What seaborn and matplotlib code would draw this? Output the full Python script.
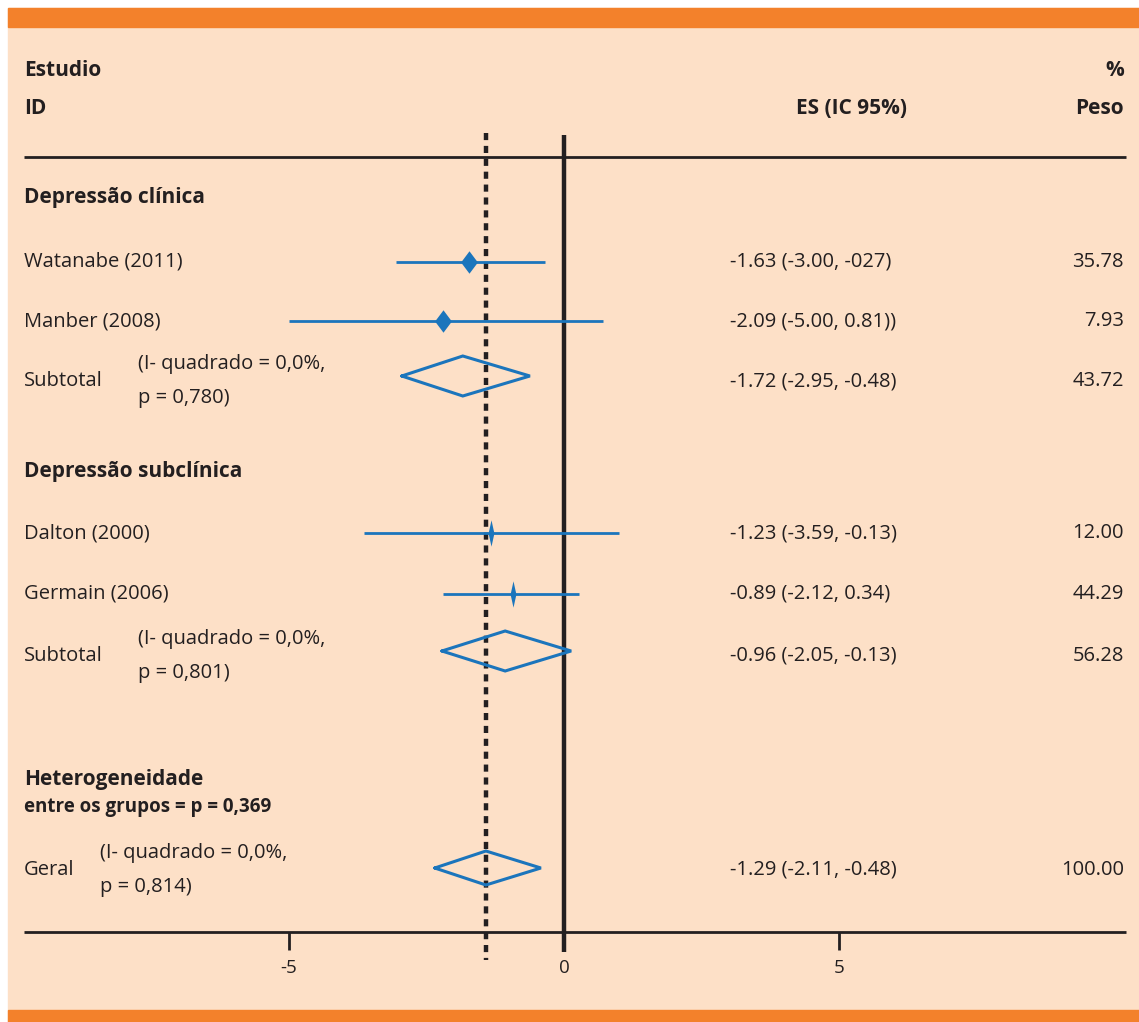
import numpy as np
import pandas as pd
import matplotlib.pyplot as plt
import seaborn as sns
from matplotlib.patches import Rectangle

# estudos individuais (posicoes)
study_names = ["Watanabe (2011)", "Manber (2008)", "Dalton (2000)", "Germain (2006)"]
study_es = [-1.73, -2.20, -1.33, -0.93]
study_lo = [-3.05, -5.00, -3.64, -2.20]
study_hi = [-0.35, 0.71, 1.00, 0.27]
study_ci_txt = ["-1.63 (-3.00, -027)", "-2.09 (-5.00, 0.81))",
                "-1.23 (-3.59, -0.13)", "-0.89 (-2.12, 0.34)"]
study_peso = ["35.78", "7.93", "12.00", "44.29"]

# subtotais e geral
pool_names = ["Subtotal", "Subtotal", "Geral"]
pool_es = [-1.84, -1.07, -1.42]
pool_lo = [-2.95, -2.22, -2.35]
pool_hi = [-0.62, 0.13, -0.42]
pool_ci_txt = ["-1.72 (-2.95, -0.48)", "-0.96 (-2.05, -0.13)", "-1.29 (-2.11, -0.48)"]
pool_peso = ["43.72", "56.28", "100.00"]
pool_het = ["(I- quadrado = 0,0%,\np = 0,780)", "(I- quadrado = 0,0%,\np = 0,801)",
            "(I- quadrado = 0,0%,\np = 0,814)"]

groups = ["Depressão clínica", "Depressão subclínica"]
xticks = [-5, 0, 5]

sns.set_theme(style="white")
plt.rcParams['font.family'] = ['Open Sans', 'DejaVu Sans']

BLUE = "#1b75bc"
DARK = "#231f20"
ORANGE = "#f3812b"
PEACH = "#fde0c7"

W, H = 1139, 1022
fig = plt.figure(figsize=(W / 100, H / 100), dpi=100)
ax = fig.add_axes([0, 0, 1, 1])
x0, scale = 564, 55.0
ax.set_xlim((0 - x0) / scale, (W - x0) / scale)
ax.set_ylim(H, 0)
ax.axis("off")


def px(x):
    return (x - x0) / scale


# fundo e faixas laranja
ax.add_patch(Rectangle((px(8), 8), px(W) - px(8), H - 8, color=PEACH, zorder=0))
ax.add_patch(Rectangle((px(8), 8), px(W) - px(8), 19, color=ORANGE, zorder=1))
ax.add_patch(Rectangle((px(8), 1010), px(W) - px(8), 12, color=ORANGE, zorder=1))

# linhas de referencia
ax.vlines(0, 135, 952, color=DARK, lw=3.2, zorder=3)
ax.vlines(pool_es[2], 133, 960, color=DARK, lw=3.2, linestyles=(0, (1.6, 1.3)), zorder=3)
ax.hlines(157, px(24), px(1126), color=DARK, lw=2, zorder=3)
ax.hlines(932, px(24), px(1126), color=DARK, lw=2, zorder=3)
ax.vlines(xticks, 932, 950, color=DARK, lw=2, zorder=3)
for t in xticks:
    ax.text(t, 968, f"{t}", ha="center", va="center", fontsize=13.5, color=DARK)

# cabecalho
bold = dict(fontsize=15, fontweight="bold", color=DARK, va="center")
norm = dict(fontsize=14.5, color=DARK, va="center")
ax.text(px(24), 71, "Estudio", ha="left", **bold)
ax.text(px(24), 108, "ID", ha="left", **bold)
ax.text(px(907), 108, "ES (IC 95%)", ha="right", **bold)
ax.text(px(1124), 71, "%", ha="right", **bold)
ax.text(px(1124), 108, "Peso", ha="right", **bold)

ax.text(px(24), 198, groups[0], ha="left", **bold)
ax.text(px(24), 471, groups[1], ha="left", **bold)
ax.text(px(24), 780, "Heterogeneidade", ha="left", **bold)
ax.text(px(24), 807, "entre os grupos = p = 0,369", ha="left",
        fontsize=13.5, fontweight="bold", color=DARK, va="center")

# estudos
study_y = [262, 321, 533, 594]
big = [(0, 1), (0.75, 0), (0, -1), (-0.75, 0), (0, 1)]
thin = [(0, 1), (0.22, 0), (0, -1), (-0.22, 0), (0, 1)]
df = pd.DataFrame({"es": study_es, "lo": study_lo, "hi": study_hi, "y": study_y})
ax.hlines(df["y"], df["lo"], df["hi"], color=BLUE, lw=2, zorder=4)
sns.scatterplot(x=df["es"][:2], y=df["y"][:2], marker=big, s=260, color=BLUE,
                edgecolor=BLUE, linewidth=0, zorder=5, ax=ax)
sns.scatterplot(x=df["es"][2:], y=df["y"][2:], marker=thin, s=360, color=BLUE,
                edgecolor=BLUE, linewidth=0, zorder=5, ax=ax)
for i, yy in enumerate(study_y):
    ax.text(px(24), yy, study_names[i], ha="left", **norm)
    ax.text(px(730), yy, study_ci_txt[i], ha="left", **norm)
    ax.text(px(1124), yy, study_peso[i], ha="right", **norm)

# diamantes agrupados
pool_y = [376, 651, 868]
half_h = [20, 20, 17]
het_x = [138, 138, 100]
for i, yy in enumerate(pool_y):
    dx = [pool_lo[i], pool_es[i], pool_hi[i], pool_es[i], pool_lo[i]]
    dy = [yy, yy - half_h[i], yy, yy + half_h[i], yy]
    ax.plot(dx, dy, color=BLUE, lw=2.2, zorder=5, solid_joinstyle="miter")
    off = 5 if i < 2 else 2
    ax.text(px(24), yy + off, pool_names[i], ha="left", **norm)
    ax.text(px(het_x[i]), yy + off, pool_het[i], ha="left",
            linespacing=1.9, fontsize=14.5, color=DARK, va="center")
    ax.text(px(730), yy + off, pool_ci_txt[i], ha="left", **norm)
    ax.text(px(1124), yy + off, pool_peso[i], ha="right", **norm)

fig.savefig("out.png", dpi=100)
